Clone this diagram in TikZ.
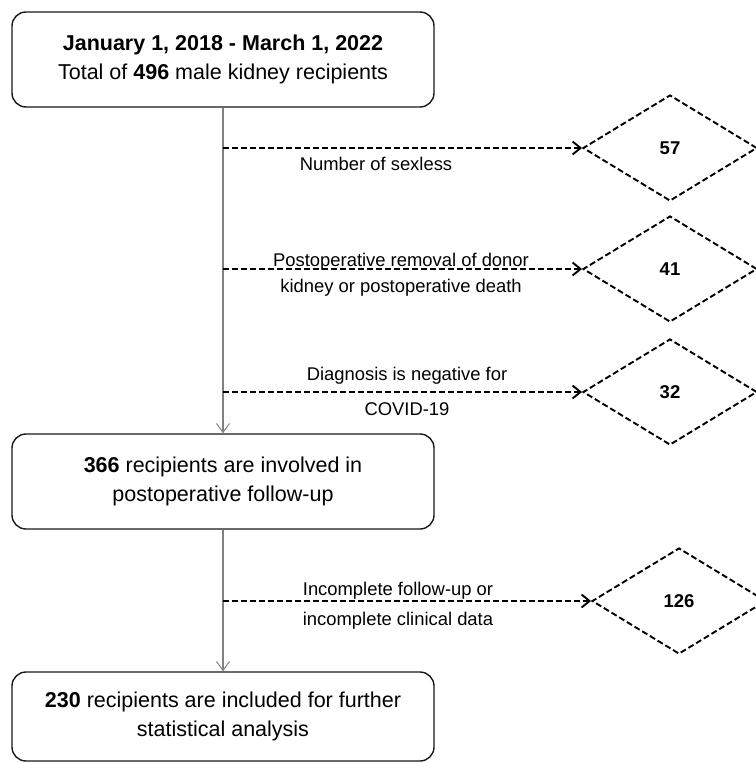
\documentclass[tikz,border=0pt]{standalone}
\usepackage{fontspec}
\setmainfont{Liberation Sans}
\usetikzlibrary{shapes.geometric,arrows.meta}
\begin{document}
\begin{tikzpicture}[x=1pt,y=-1pt,
  box/.style={draw=black!90,line width=1.4pt,rounded corners=14pt,minimum width=422pt,
    minimum height=95pt,align=center,inner sep=0pt,font=\fontsize{21.5}{28.5}\selectfont},
  dia/.style={shape=diamond,draw=black,line width=1.9pt,dash pattern=on 6pt off 3pt,
    minimum width=174pt,minimum height=106pt,inner sep=0pt,
    font=\bfseries\fontsize{18.5}{20}\selectfont},
  flow/.style={draw=black!50,line width=1.2pt,-{Straight Barb[length=9pt,width=13pt,line width=1pt]}},
  excl/.style={draw=black,line width=1.9pt,dash pattern=on 6pt off 3pt,
    -{Straight Barb[length=8pt,width=13pt,line width=1.9pt]}},
  lbl/.style={font=\fontsize{18.4}{22}\selectfont,inner sep=0pt,anchor=base}]
\useasboundingbox (0,0) rectangle (755,763);
% main boxes
\node[box] (b1) at (223,59.5) {\textbf{January 1, 2018 - March 1, 2022}\\Total of \textbf{496} male kidney recipients};
\node[box] (b2) at (223,481.5) {\textbf{366} recipients are involved in\\postoperative follow-up};
\node[box,minimum height=89pt] (b3) at (223,716.5) {\textbf{230} recipients are included for further\\statistical analysis};
% exclusion diamonds
\node[dia] (d1) at (670,148) {57};
\node[dia] (d2) at (670,269) {41};
\node[dia] (d3) at (670,392) {32};
\node[dia] (d4) at (679,601) {126};
% vertical flow
\draw[flow] (b1.south) -- (b2.north);
\draw[flow] (b2.south) -- (b3.north);
% exclusion arrows
\draw[excl] (b1.south |- d1.west) -- (d1.west);
\draw[excl] (b1.south |- d2.west) -- (d2.west);
\draw[excl] (b1.south |- d3.west) -- (d3.west);
\draw[excl] (b2.south |- d4.west) -- (d4.west);
% labels
\node[lbl] (l1) at (376,170.6) {Number of sexless};
\node[lbl] (l2a) at (401,266.6) {Postoperative removal of donor};
\node[lbl] (l2b) at (401,292.6) {kidney or postoperative death};
\node[lbl] (l3a) at (407,380.6) {Diagnosis is negative for};
\node[lbl] (l3b) at (407,415.9) {COVID-19};
\node[lbl] (l4a) at (398,595) {Incomplete follow-up or};
\node[lbl] (l4b) at (398,625) {incomplete clinical data};
\end{tikzpicture}
\end{document}
